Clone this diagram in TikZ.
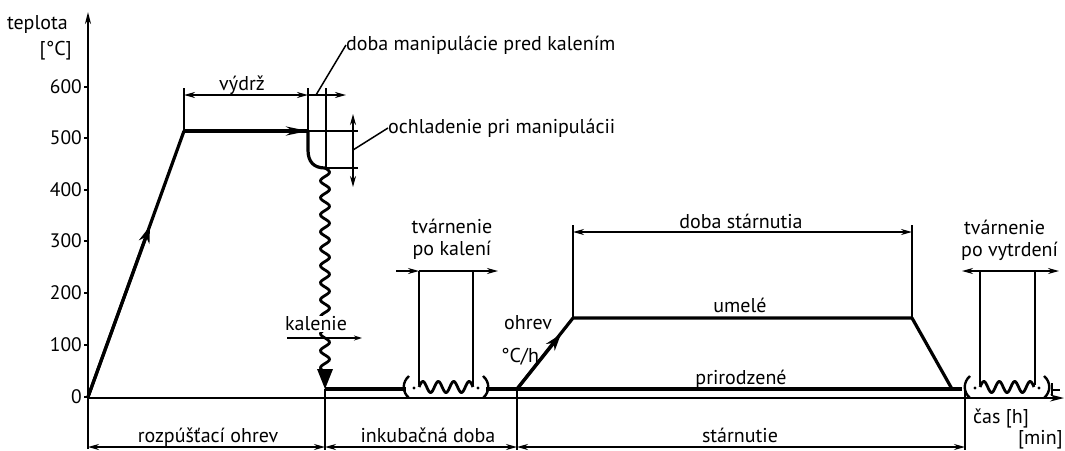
\documentclass[tikz,border=0pt]{standalone}
\usepackage{fontspec}
\setmainfont{PT Sans}
\usetikzlibrary{arrows.meta}
\begin{document}
\begin{tikzpicture}[x=1pt,y=-1pt,
  proc/.style={line width=3.2pt, line join=round},
  dim/.style={line width=1.5pt},
  ax/.style={line width=1.8pt},
  dtip/.style={{Stealth[length=11pt,width=6pt]}-{Stealth[length=11pt,width=6pt]}},
  rtip/.style={-{Stealth[length=11pt,width=6pt]}},
  lbl/.style={font=\fontsize{20}{23}\selectfont, inner sep=0pt},
  num/.style={font=\fontsize{19.5}{22}\selectfont, inner sep=0pt, anchor=east},
  wavegrp/.pic={
    \draw[line width=2.4pt] (-37,-11) .. controls (-44,-5) and (-44,5) .. (-37,11);
    \draw[line width=2.4pt] (37,-11) .. controls (44,-5) and (44,5) .. (37,11);
    \fill (-32,1) circle (1.6);
    \fill (32,1) circle (1.6);
    \draw[line width=2.8pt] plot[domain=-27:27,samples=90] (\x,{-5.5*sin((\x+27)/15.43*360)});
  }
]
\useasboundingbox (0,0) rectangle (1065,450);

% ---------- axes ----------
\coordinate (Ybot) at (88,449);
\coordinate (Ytop) at (88,12);
\coordinate (Xl) at (88,398);
\coordinate (Xr) at (1064,398);
\draw[ax,-{Stealth[length=12pt,width=6pt]}] (Ybot) -- (Ytop);
\draw[ax,-{Stealth[length=14pt,width=7pt]}] (Xl) -- (Xr);
\foreach \v/\yy in {600/87,500/138,400/190,300/241,200/293,100/345,0/397}{
  \draw[ax] (84,\yy) -- (88,\yy);
  \node[num] (t\v) at (82,\yy) {\v};
}
\node[lbl,anchor=east] (tep) at (68,24) {teplota};
\node[lbl,anchor=east] (unit) at (72,51) {[°C]};

% ---------- process curve ----------
\coordinate (P0) at (88,397);
\coordinate (P1) at (184,131);
\coordinate (Pm) at (150,226);
\coordinate (P2) at (308,131);
\coordinate (P3) at (308,150);
\coordinate (Q1) at (325,168);
\coordinate (Q3) at (325,389);
\draw[proc] (P0) -- (P1);
\draw[proc,-{Stealth[length=17pt,width=11pt]}] (P0) -- (Pm);
\draw[proc] (P1) -- (P2);
\draw[proc,-{Stealth[length=22pt,width=9pt]}] (P1) -- (P2);
\draw[proc] (P2) -- (P3) .. controls (308,162) and (314,168) .. (Q1);
\draw[line width=2.8pt] plot[domain=168:372,samples=160] ({325+4.5*sin((\x-168)/17*360)},\x);
\fill (317,369) -- (333,369) -- (Q3) -- cycle;

% base line and wavy forming inserts
\coordinate (B1) at (406,389);
\coordinate (B2) at (486,389);
\coordinate (B3) at (517,389);
\coordinate (B4) at (962,389);
\draw[proc] (Q3) -- (B1);
\pic (wk) at (446,387) {wavegrp};
\draw[proc] (B2) -- (B3) -- (B4);
\pic (wv) at (1007,387) {wavegrp};
\draw[dim] (1052,383) -- (1052,396);
\draw[dim] (1052,390) -- (1060,390);

% aging
\coordinate (A1) at (573,318);
\coordinate (A2) at (912,318);
\coordinate (A3) at (952,389);
\coordinate (Am) at (561,334);
\draw[proc] (B3) -- (A1) -- (A2) -- (A3);
\draw[proc,-{Stealth[length=17pt,width=11pt]}] (B3) -- (Am);

% ---------- top dimensions ----------
\draw[dim] (184,88) -- (P1);
\draw[dim] (308,88) -- (P2);
\draw[dim] (326,88) -- (326,168);
\draw[dim,dtip] (184,95) -- (308,95);
\draw[dim,rtip] (308,95) -- (346,95);
\node[lbl,anchor=base] (vydrz) at (242,90) {výdrž};
\node[lbl,anchor=west] (dm) at (346,45) {doba manipulácie pred kalením};
\draw[dim] (316,95) -- (dm.west);

\draw[dim] (P2) -- (358,131);
\draw[dim] (Q1) -- (358,168);
\draw[dim,dtip] (353,114) -- (353,187);
\node[lbl,anchor=west] (och) at (388,128) {ochladenie pri manipulácii};
\draw[dim] (353,150) -- (och.west);

% kalenie label
\node[lbl,fill=white,inner sep=1pt] (kal) at (316,324) {kalenie};
\draw[dim,-{Stealth[length=8pt,width=5pt]}] (287,338) -- (362,338);

% tvárnenie po kalení
\draw[dim] (419,271) -- (419,385);
\draw[dim] (473,271) -- (473,385);
\draw[dim,rtip] (396,271) -- (419,271);
\draw[dim,rtip] (419,271) -- (498,271);
\node[lbl] (tk1) at (452,226) {tvárnenie};
\node[lbl] (tk2) at (452,250) {po kalení};

% doba stárnutia
\draw[dim] (573,225) -- (A1);
\draw[dim] (912,225) -- (A2);
\draw[dim,dtip] (573,232) -- (912,232);
\node[lbl,anchor=base] (ds) at (741,228) {doba stárnutia};
\node[lbl,anchor=base] (um) at (740,312) {umelé};
\node[lbl,anchor=base] (pr) at (741,384) {prirodzené};
\node[lbl] (oh) at (528,323) {ohrev};
\node[lbl] (ch) at (520,357) {°C/h};

% tvárnenie po vytrdení
\draw[dim] (980,271) -- (980,385);
\draw[dim] (1035,271) -- (1035,385);
\draw[dim,dtip] (962,271) -- (1059,271);
\node[lbl,anchor=west] (tv1) at (964,227) {tvárnenie};
\node[lbl,anchor=west] (tv2) at (961,251) {po vytrdení};

% ---------- bottom dimensions ----------
\draw[dim] (Q3) -- (325,450);
\draw[dim] (B3) -- (517,450);
\draw[dim] (965,386) -- (965,450);
\draw[dim,dtip] (88,447) -- (325,447);
\draw[dim,dtip] (325,447) -- (517,447);
\draw[dim,dtip] (517,447) -- (965,447);
\node[lbl,anchor=base] (rz) at (208,442) {rozpúšťací ohrev};
\node[lbl,anchor=base] (ink) at (428,442) {inkubačná doba};
\node[lbl,anchor=base] (st) at (740,442) {stárnutie};
\node[lbl,anchor=west] (cas) at (973,418) {čas [h]};
\node[lbl,anchor=east] (mn) at (1063,440) {[min]};
\end{tikzpicture}
\end{document}
